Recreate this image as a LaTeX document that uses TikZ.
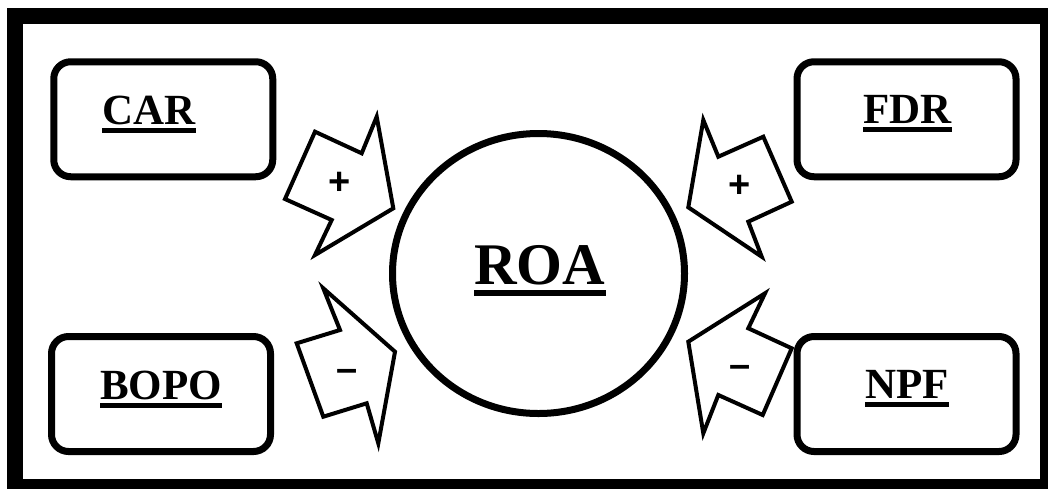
\documentclass[tikz,border=0pt]{standalone}
\usepackage{fontspec}
\usetikzlibrary{shapes.geometric}
\setmainfont{Liberation Serif}
\newfontfamily\signfont{Liberation Sans}
\begin{document}
\begin{tikzpicture}[x=1pt,y=-1pt,
  frame/.style={line width=16pt},
  varbox/.style={draw, line width=7pt, rounded corners=17pt, minimum width=219pt, minimum height=115pt, inner sep=0pt},
  varlbl/.style={inner sep=0pt, font=\fontsize{43}{43}\selectfont\bfseries},
  mainlbl/.style={inner sep=0pt, font=\fontsize{59}{59}\selectfont\bfseries},
  ul/.style={line width=5pt},
  ulbig/.style={line width=6pt},
  roa/.style={draw, line width=7pt, ellipse, minimum width=292pt, minimum height=280pt, inner sep=0pt},
  blockarrow/.style={draw, line width=4pt, miter limit=10, line join=miter},
  sign/.style={inner sep=0pt, font=\signfont\fontsize{38}{38}\selectfont\bfseries}
]
\useasboundingbox (0,0) rectangle (1048,488);
\clip (0,0) rectangle (1048,488);
\draw[frame] (15,16) rectangle (1048,487);

% boxes
\node[varbox] (carbox) at (163.25,119.25) {};
\node[varbox] (fdrbox) at (906.5,119.25) {};
\node[varbox] (bopobox) at (161,394) {};
\node[varbox] (npfbox) at (906.5,394) {};

% labels
\node[varlbl, anchor=base west] (car) at (102,124) {CAR};
\node[varlbl, anchor=base west] (fdr) at (863,123) {FDR};
\node[varlbl, anchor=base west] (bopo) at (100,399) {BOPO};
\node[varlbl, anchor=base west] (npf) at (865,398) {NPF};
\foreach \n in {car,fdr,bopo,npf}
  \draw[ul] ([yshift=-6pt]\n.base west) -- ([yshift=-6pt]\n.base east);

% ROA circle
\node[roa] (roacircle) at (538.5,273.5) {};
\node[mainlbl, anchor=base west] (roa) at (474,284) {ROA};
\draw[ulbig] ([yshift=-9pt]roa.base west) -- ([yshift=-9pt]roa.base east);

% block arrows
\draw[blockarrow] (393.3,208.3) -- (376.7,116.7) -- (361.7,153.3) -- (315,131.7) -- (285,199) -- (331.7,220) -- (315,255) -- cycle;
\draw[blockarrow] (395,351.7) -- (323.3,288.3) -- (340,330) -- (296.7,343.3) -- (323.3,416.7) -- (366.7,403.3) -- (378.3,443.3) -- cycle;
\draw[blockarrow] (688.3,207.3) -- (703.3,120) -- (718.3,156.7) -- (763.3,136.7) -- (791.7,201.7) -- (748.3,221.7) -- (761.7,256.7) -- cycle;
\draw[blockarrow] (688.3,341.7) -- (765,293.3) -- (748.3,328.3) -- (791.7,348.3) -- (762.7,415) -- (718.3,395) -- (703.3,433.3) -- cycle;

% signs
\node[sign] (s1) at (340,183) {+};
\node[sign] (s2) at (346.7,375) {–};
\node[sign] (s3) at (740,186) {+};
\node[sign] (s4) at (740,371.7) {–};
\end{tikzpicture}
\end{document}
